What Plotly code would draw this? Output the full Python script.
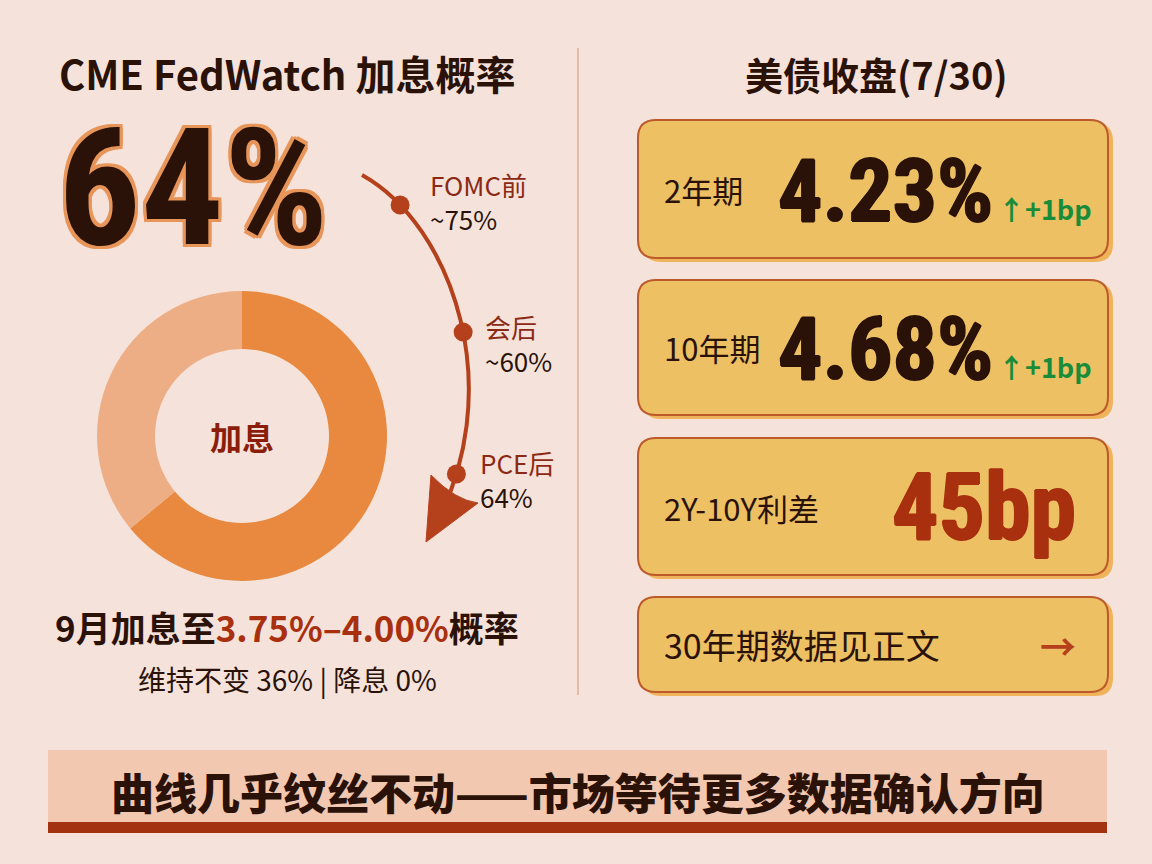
import plotly.graph_objects as go

# ---- data ----
hike_prob = 64
donut_labels = ["加息", "维持不变", "降息"]
donut_values = [64, 36, 0]

timeline_names = ["FOMC前", "会后", "PCE后"]
timeline_probs = ["~75%", "~60%", "64%"]

yield_terms = ["2年期", "10年期"]
yield_values = [4.23, 4.68]
yield_changes_bp = [1, 1]
spread_label = "2Y-10Y利差"
spread_bp = 45
more_label = "30年期数据见正文"

target_range = "3.75%–4.00%"
hold_prob = 36
cut_prob = 0

W, H = 1152, 864
BG = "#f5e3db"
DARK = "#2a1208"
RED = "#a8300f"
ARC = "#b5401c"
CJK = "Noto Sans CJK SC"
NARROW = "Roboto Condensed, Open Sans Condensed, sans-serif"

fig = go.Figure()

# donut
cx, cy, R = 242, 436, 145
fig.add_trace(go.Pie(
    labels=donut_labels, values=donut_values, hole=0.6, sort=False,
    direction="clockwise", rotation=0, textinfo="none", hoverinfo="label+value",
    marker=dict(colors=["#e8893f", "#edae85", "#f3c9ad"], line=dict(width=0)),
    domain=dict(x=[(cx - R) / W, (cx + R) / W], y=[1 - (cy + R) / H, 1 - (cy - R) / H]),
    showlegend=False,
))


def rrect(x0, y0, x1, y1, r):
    return (f"M {x0+r} {y0} L {x1-r} {y0} Q {x1} {y0} {x1} {y0+r} L {x1} {y1-r} "
            f"Q {x1} {y1} {x1-r} {y1} L {x0+r} {y1} Q {x0} {y1} {x0} {y1-r} "
            f"L {x0} {y0+r} Q {x0} {y0} {x0+r} {y0} Z")


def thick(c, w=1):
    return f"{w}px 0 0 {c}, -{w}px 0 0 {c}, 0 {w}px 0 {c}, 0 -{w}px 0 {c}"


shapes = []
ann = []

# divider
shapes.append(dict(type="line", x0=578, x1=578, y0=48, y1=695, xref="x", yref="y",
                   line=dict(color="#e4bca6", width=2)))

# arc (cubic bezier) + arrowhead
P = [(362, 175), (452, 225), (512, 392), (430, 535)]
shapes.append(dict(type="path", xref="x", yref="y",
                   path=f"M {P[0][0]} {P[0][1]} C {P[1][0]} {P[1][1]}, {P[2][0]} {P[2][1]}, {P[3][0]} {P[3][1]}",
                   line=dict(color=ARC, width=4)))
shapes.append(dict(type="path", xref="x", yref="y",
                   path="M 431 475 L 426 542 L 478 503 Q 455 500 431 475 Z",
                   fillcolor=ARC, line=dict(color=ARC, width=1)))


def bez(t):
    a = (1 - t) ** 3
    b = 3 * (1 - t) ** 2 * t
    c = 3 * (1 - t) * t ** 2
    d = t ** 3
    return (a * P[0][0] + b * P[1][0] + c * P[2][0] + d * P[3][0],
            a * P[0][1] + b * P[1][1] + c * P[2][1] + d * P[3][1])


timeline_t = [0.15, 0.53, 0.86]
pts = [bez(t) for t in timeline_t]
fig.add_trace(go.Scatter(x=[p[0] for p in pts], y=[p[1] for p in pts], mode="markers",
                         marker=dict(size=19, color=ARC), hoverinfo="text",
                         text=[f"{n} {v}" for n, v in zip(timeline_names, timeline_probs)],
                         showlegend=False, xaxis="x", yaxis="y"))
label_pos = [(428, 201), (483, 343), (478, 479)]
for (lx, ly), n, v in zip(label_pos, timeline_names, timeline_probs):
    ann.append(dict(x=lx, y=ly, text=f"<span style='color:#8b2a14'>{n}</span><br>{v}",
                    xanchor="left", align="left", font=dict(family=CJK, size=26, color=DARK)))

# left texts
ann.append(dict(x=57, y=73, text="CME FedWatch 加息概率", xanchor="left",
                font=dict(family=CJK, size=40, color=DARK, weight=700)))
o = "#e8955a"
outline = ", ".join(f"{dx}px {dy}px 0 {o}" for dx in (-3, 0, 3) for dy in (-3, 0, 3) if dx or dy)
ann.append(dict(x=56, y=188, text=f"{hike_prob}%", xanchor="left",
                font=dict(family=NARROW, size=164, color=DARK, weight=700, shadow=outline)))
ann.append(dict(x=cx, y=cy, text=donut_labels[0],
                font=dict(family=CJK, size=32, color="#8b1e0a", weight=700)))
ann.append(dict(x=287, y=626, text=f"9月加息至<span style='color:{RED}'>{target_range}</span>概率",
                font=dict(family=CJK, size=35, color=DARK, weight=700)))
ann.append(dict(x=287, y=679, text=f"维持不变 {hold_prob}% | 降息 {cut_prob}%",
                font=dict(family=CJK, size=28, color=DARK)))

# right column
ann.append(dict(x=876, y=73, text="美债收盘(7/30)",
                font=dict(family=CJK, size=38, color=DARK, weight=700)))
cards = [(120, 258), (280, 415), (438, 575), (597, 692)]
for y0, y1 in cards:
    shapes.append(dict(type="path", xref="x", yref="y", path=rrect(643, y0 + 3, 1113, y1 + 4, 18),
                       fillcolor="#efb45a", line=dict(width=0), layer="below"))
    shapes.append(dict(type="path", xref="x", yref="y", path=rrect(638, y0, 1108, y1, 18),
                       fillcolor="#ecc063", line=dict(color="#bd5a2c", width=2), layer="below"))

for (y0, y1), term, val, chg in zip(cards[:2], yield_terms, yield_values, yield_changes_bp):
    mid = (y0 + y1) / 2
    ann.append(dict(x=662, y=mid, text=term, xanchor="left",
                    font=dict(family=CJK, size=31, color=DARK)))
    ann.append(dict(x=776, y=mid + 1, text=f"{val:.2f}%", xanchor="left",
                    font=dict(family=NARROW, size=88, color=DARK, weight=700, shadow=thick(DARK))))
    ann.append(dict(x=996, y=mid + 19, text=f"<b>↑</b>+{chg}bp", xanchor="left",
                    font=dict(family=CJK, size=27, color="#198c3a", weight=700)))

y0, y1 = cards[2]
ann.append(dict(x=662, y=(y0 + y1) / 2 + 1, text=spread_label, xanchor="left",
                font=dict(family=CJK, size=31, color=DARK)))
ann.append(dict(x=1078, y=(y0 + y1) / 2 + 1, text=f"{spread_bp}bp", xanchor="right",
                font=dict(family=NARROW, size=92, color=RED, weight=700, shadow=thick(RED))))
y0, y1 = cards[3]
ann.append(dict(x=662, y=(y0 + y1) / 2, text=more_label, xanchor="left",
                font=dict(family=CJK, size=34, color=DARK)))
ann.append(dict(x=1078, y=(y0 + y1) / 2, text="→", xanchor="right",
                font=dict(family=CJK, size=36, color=ARC, weight=700)))

# bottom banner
shapes.append(dict(type="rect", xref="x", yref="y", x0=48, x1=1107, y0=750, y1=822,
                   fillcolor="#f3c8b1", line=dict(width=0), layer="below"))
shapes.append(dict(type="rect", xref="x", yref="y", x0=48, x1=1107, y0=822, y1=833,
                   fillcolor="#a33310", line=dict(width=0), layer="below"))
ann.append(dict(x=578, y=791, text="曲线几乎纹丝不动——市场等待更多数据确认方向",
                font=dict(family=CJK, size=43, color=DARK, weight=900)))

for a in ann:
    a.update(xref="x", yref="y", showarrow=False)

fig.update_layout(
    width=W, height=H, margin=dict(l=0, r=0, t=0, b=0),
    paper_bgcolor=BG, plot_bgcolor=BG,
    xaxis=dict(range=[0, W], visible=False, fixedrange=True),
    yaxis=dict(range=[H, 0], visible=False, fixedrange=True),
    shapes=shapes, annotations=ann, showlegend=False,
)

fig.write_html("out.html", config=dict(displayModeBar=False),
               post_script="document.body.style.margin='0';document.body.style.background='#f5e3db';")
